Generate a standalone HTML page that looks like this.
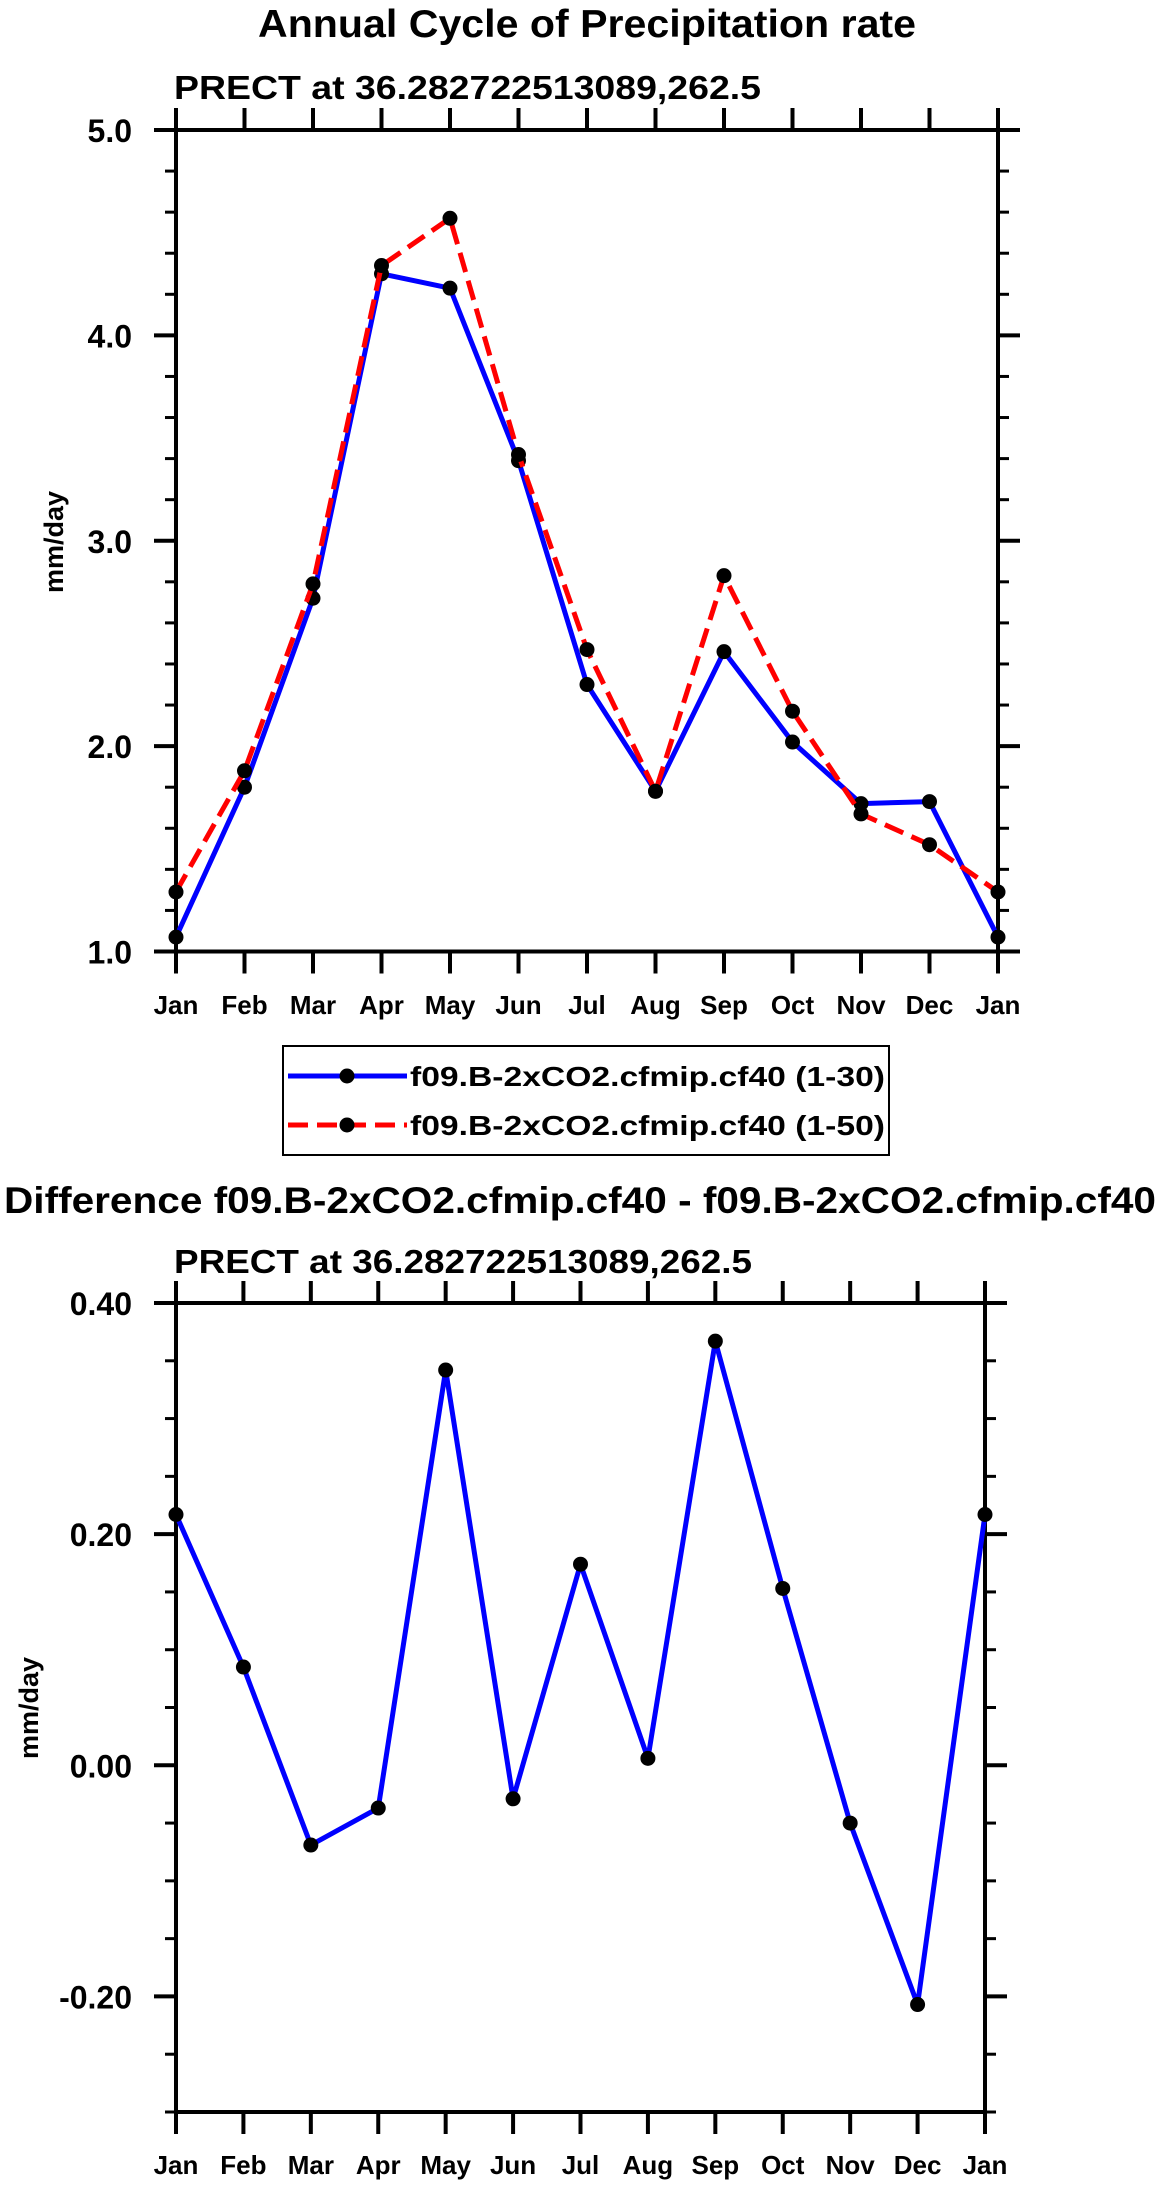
<!DOCTYPE html>
<html><head><meta charset="utf-8"><style>
html,body{margin:0;padding:0;background:#fff;}
svg{display:block;font-family:"Liberation Sans",sans-serif;font-weight:bold;}
</style></head><body>
<svg id="svg" width="1161" height="2185" viewBox="0 0 1161 2185" xmlns="http://www.w3.org/2000/svg">
<text x="258" y="37" font-size="39" textLength="658" lengthAdjust="spacingAndGlyphs">Annual Cycle of Precipitation rate</text>
<text x="174" y="99" font-size="33" textLength="587" lengthAdjust="spacingAndGlyphs">PRECT at 36.282722513089,262.5</text>
<g id="top"></g>
<g>
<rect x="283" y="1046" width="606" height="109" fill="none" stroke="#000" stroke-width="2"/>
<g>
<line x1="288" y1="1076" x2="407" y2="1076" stroke="#0000ff" stroke-width="5"/>
<circle cx="347" cy="1076" r="7.5" fill="#000"/>
<text x="410" y="1086" font-size="28" textLength="475" lengthAdjust="spacingAndGlyphs">f09.B-2xCO2.cfmip.cf40 (1-30)</text>
</g>
<g>
<line x1="288" y1="1125" x2="407" y2="1125" stroke="#ff0000" stroke-width="5" stroke-dasharray="20,9"/>
<circle cx="347" cy="1125" r="7.5" fill="#000"/>
<text x="410" y="1135" font-size="28" textLength="475" lengthAdjust="spacingAndGlyphs">f09.B-2xCO2.cfmip.cf40 (1-50)</text>
</g>
</g>
<text x="4" y="1213" font-size="37" textLength="1152" lengthAdjust="spacingAndGlyphs">Difference f09.B-2xCO2.cfmip.cf40 - f09.B-2xCO2.cfmip.cf40</text>
<text x="174" y="1273" font-size="33" textLength="578" lengthAdjust="spacingAndGlyphs">PRECT at 36.282722513089,262.5</text>
<g id="bot"></g>
</svg>
<script>
const months = ["Jan","Feb","Mar","Apr","May","Jun","Jul","Aug","Sep","Oct","Nov","Dec","Jan"];
const precip130 = [1.07,1.80,2.72,4.30,4.23,3.39,2.30,1.78,2.46,2.02,1.72,1.73,1.07];
const precip150 = [1.29,1.88,2.79,4.34,4.57,3.42,2.47,1.78,2.83,2.17,1.67,1.52,1.29];
const diffVals = [0.217,0.085,-0.069,-0.037,0.342,-0.029,0.174,0.006,0.367,0.153,-0.050,-0.207,0.217];
const topTicks = ["1.0","2.0","3.0","4.0","5.0"];
const botTicks = ["-0.20","0.00","0.20","0.40"];

const NS="http://www.w3.org/2000/svg";
function mk(parent,tag,attrs){const e=document.createElementNS(NS,tag);for(const k in attrs)e.setAttribute(k,attrs[k]);parent.appendChild(e);return e;}

function drawPlot(g,cfg){
  const X=i=>cfg.x0+(cfg.x1-cfg.x0)*i/(months.length-1);
  const Y=v=>cfg.y1-(v-cfg.vmin)/(cfg.vmax-cfg.vmin)*(cfg.y1-cfg.y0);
  for(let v=cfg.vmin;v<=cfg.vmax+1e-9;v+=cfg.minor){
    const y=Y(v);
    const l=mk(g,"line",{x1:cfg.x0-11,y1:y,x2:cfg.x0,y2:y,stroke:"#000","stroke-width":3});
    
    
    const r=mk(g,"line",{x1:cfg.x1,y1:y,x2:cfg.x1+11,y2:y,stroke:"#000","stroke-width":3});
    
    
  }
  cfg.ticks.forEach(t=>{
    const y=Y(parseFloat(t));
    const l=mk(g,"line",{x1:cfg.x0-22,y1:y,x2:cfg.x0,y2:y,stroke:"#000","stroke-width":4});
    
    
    const r=mk(g,"line",{x1:cfg.x1,y1:y,x2:cfg.x1+22,y2:y,stroke:"#000","stroke-width":4});
    
    
    const tx=mk(g,"text",{x:cfg.x0-44,y:y+12,"font-size":32,"text-anchor":"end"});
    tx.textContent=t;
    
    
  });
  months.forEach((m,i)=>{
    const x=X(i);
    const a=mk(g,"line",{x1:x,y1:cfg.y0-22,x2:x,y2:cfg.y0,stroke:"#000","stroke-width":4});
    
    
    const b=mk(g,"line",{x1:x,y1:cfg.y1,x2:x,y2:cfg.y1+22,stroke:"#000","stroke-width":4});
    
    
    const t=mk(g,"text",{x:x,y:cfg.labelY,"font-size":26,"text-anchor":"middle"});
    t.textContent=m;
    
    
  });
  const fr=mk(g,"rect",{x:cfg.x0,y:cfg.y0,width:cfg.x1-cfg.x0,height:cfg.y1-cfg.y0,fill:"none",stroke:"#000","stroke-width":4});
  
  
  const yt=mk(g,"text",{x:0,y:0,"font-size":27,"text-anchor":"middle",textLength:102,lengthAdjust:"spacingAndGlyphs",transform:`translate(${cfg.titleX},${cfg.titleY}) rotate(-90)`});
  yt.textContent="mm/day";
  
  
  cfg.series.forEach(s=>{
    const pts=s.vals.map((v,i)=>X(i)+","+Y(v)).join(" ");
    const pl=mk(g,"polyline",{points:pts,fill:"none",stroke:s.color,"stroke-width":5,"stroke-dasharray":s.dash||"none","stroke-linejoin":"round"});
    
    
    s.vals.forEach((v,i)=>{
      const c=mk(g,"circle",{cx:X(i),cy:Y(v),r:7.5,fill:"#000"});
      
      
    });
  });
}
drawPlot(document.getElementById("top"),{x0:176,x1:998,y0:130,y1:951.5,vmin:1,vmax:5,minor:0.2,ticks:topTicks,labelY:1014,titleX:63,titleY:542,
  series:[{name:"series-1-30",vals:precip130,color:"#0000ff"},{name:"series-1-50",vals:precip150,color:"#ff0000",dash:"20,9"}]});
drawPlot(document.getElementById("bot"),{x0:176,x1:985,y0:1303,y1:2112,vmin:-0.3,vmax:0.4,minor:0.05,ticks:botTicks,labelY:2174,titleX:38,titleY:1708,
  series:[{name:"difference",vals:diffVals,color:"#0000ff"}]});
</script>
</body></html>
